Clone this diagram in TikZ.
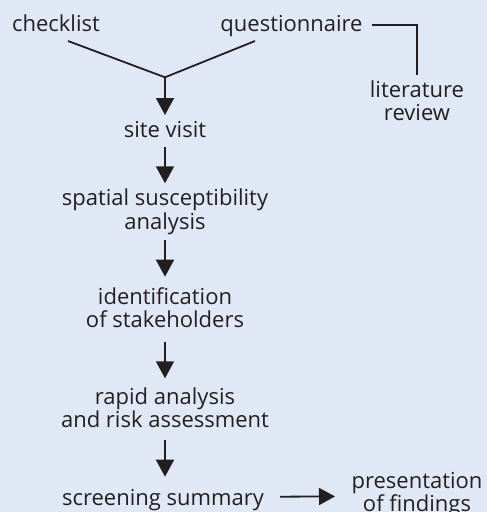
\documentclass[tikz,border=0pt]{standalone}
\usepackage{fontspec}
\setmainfont{Open Sans}
\usetikzlibrary{arrows.meta,calc}
\definecolor{bgc}{HTML}{E1E8F5}
\definecolor{ink}{HTML}{231F20}
\begin{document}
\begin{tikzpicture}[x=1pt,y=-1pt,
  lbl/.style={anchor=base,inner sep=0pt,text=ink,font=\fontsize{22}{23}\selectfont},
  ln/.style={draw=ink,line width=1.8pt},
  arr/.style={ln,-{Triangle[width=18pt,length=17pt]}},
  harr/.style={ln,-{Triangle[width=17pt,length=16pt]}}]
\fill[bgc] (0,0) rectangle (487,512);
\useasboundingbox (0,0) rectangle (487,512);
\newcommand{\twol}[2]{\begin{tabular}[t]{@{}c@{}}#1\\#2\end{tabular}}
\node[lbl] (check) at (56,31) {checklist};
\node[lbl] (quest) at (291.5,31) {questionnaire};
\node[lbl] (lit) at (417,97.3) {\twol{literature}{review}};
\node[lbl] (site) at (165,137.3) {site visit};
\node[lbl] (spat) at (165,205.5) {\twol{spatial susceptibility}{analysis}};
\node[lbl] (ident) at (165,304) {\twol{identification}{of stakeholders}};
\node[lbl] (rapid) at (165,404) {\twol{rapid analysis}{and risk assessment}};
\node[lbl] (screen) at (163,505) {screening summary};
\node[lbl] (pres) at (417,488) {\twol{presentation}{of findings}};
\coordinate (j) at (165,77.3);
\draw[ln] ($(check.base)+(12,10)$) -- (j) -- ($(quest.base)+(-36.5,10)$);
\draw[arr] (j) -- ($(site.base)+(0,-22.3)$);
\draw[ln] ($(quest.base)+(80.2,-6)$) -| ($(lit.base)+(0.3,-22.3)$);
\draw[arr] ($(site.base)+(0,10)$) -- ($(spat.base)+(0,-22.2)$);
\draw[arr] ($(spat.base)+(0,34.5)$) -- ($(ident.base)+(0,-27.3)$);
\draw[arr] ($(ident.base)+(0,37.7)$) -- ($(rapid.base)+(0,-25.7)$);
\draw[arr] ($(rapid.base)+(0,36)$) -- ($(screen.base)+(2,-28.3)$);
\draw[harr] ($(screen.base)+(117,-8.3)$) -- ($(pres.base)+(-82,8.4)$);
\end{tikzpicture}
\end{document}
